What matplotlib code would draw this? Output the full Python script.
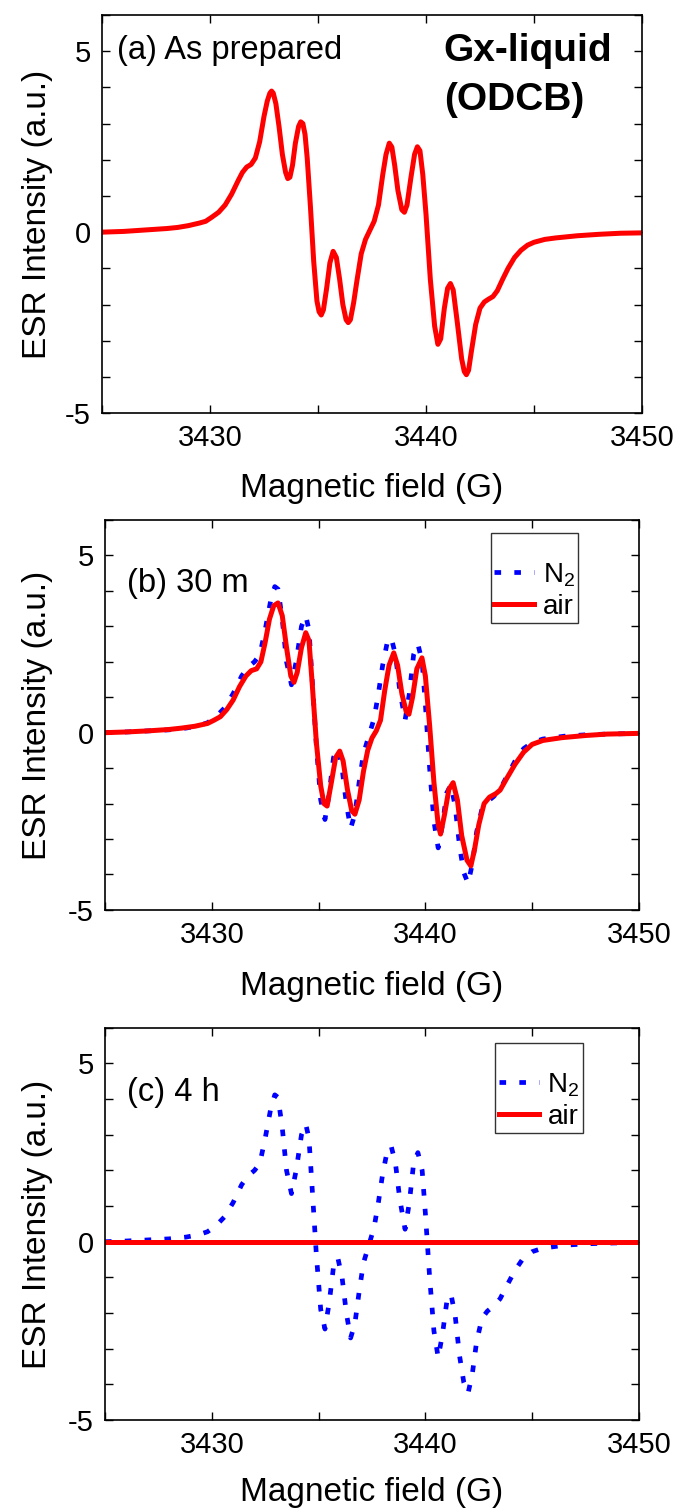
import matplotlib
matplotlib.use("Agg")
import matplotlib.pyplot as plt
from matplotlib.ticker import MultipleLocator

plt.rcParams['font.family'] = ['Liberation Sans', 'DejaVu Sans']
plt.rcParams['mathtext.fontset'] = 'custom'
plt.rcParams['mathtext.rm'] = 'Liberation Sans'
plt.rcParams['mathtext.it'] = 'Liberation Sans:italic'

# ---------------- data ----------------
# (a) as prepared
field_a = [3425, 3426, 3427, 3428, 3428.5, 3429, 3429.5, 3429.8, 3430.1, 3430.4,
           3430.7, 3431.0, 3431.3, 3431.5, 3431.7, 3431.9, 3432.1, 3432.3, 3432.5, 3432.65,
           3432.77, 3432.85, 3432.93, 3433.05, 3433.2, 3433.35, 3433.5, 3433.6, 3433.7, 3433.82,
           3433.95, 3434.1, 3434.2, 3434.3, 3434.4, 3434.5, 3434.65, 3434.8, 3434.95, 3435.05,
           3435.15, 3435.25, 3435.4, 3435.55, 3435.7, 3435.85, 3436.0, 3436.15, 3436.3, 3436.4,
           3436.5, 3436.65, 3436.8, 3437.0, 3437.2, 3437.4, 3437.6, 3437.8, 3438.0, 3438.15,
           3438.3, 3438.42, 3438.55, 3438.7, 3438.88, 3439.0, 3439.12, 3439.3, 3439.47, 3439.6,
           3439.72, 3439.85, 3440.0, 3440.2, 3440.4, 3440.55, 3440.68, 3440.85, 3441.0, 3441.13,
           3441.26, 3441.45, 3441.65, 3441.77, 3441.87, 3441.97, 3442.1, 3442.3, 3442.5, 3442.7,
           3442.9, 3443.1, 3443.3, 3443.55, 3443.8, 3444.1, 3444.4, 3444.7, 3445.0, 3445.5,
           3446.0, 3447.0, 3448.0, 3449.0, 3450.0]
esr_a = [0.0, 0.02, 0.06, 0.10, 0.13, 0.18, 0.25, 0.30, 0.42, 0.55,
         0.75, 1.05, 1.42, 1.65, 1.80, 1.87, 2.05, 2.50, 3.20, 3.62,
         3.84, 3.90, 3.84, 3.55, 2.90, 2.15, 1.65, 1.48, 1.52, 1.85,
         2.45, 2.92, 3.05, 3.00, 2.70, 2.05, 0.70, -0.80, -1.90, -2.20,
         -2.29, -2.15, -1.55, -0.85, -0.53, -0.70, -1.30, -2.00, -2.42, -2.50,
         -2.42, -1.95, -1.35, -0.60, -0.20, 0.05, 0.30, 0.75, 1.60, 2.15,
         2.46, 2.35, 1.85, 1.15, 0.62, 0.55, 0.75, 1.50, 2.15, 2.36,
         2.25, 1.60, 0.50, -1.30, -2.60, -3.10, -2.95, -2.10, -1.55, -1.42,
         -1.60, -2.50, -3.50, -3.85, -3.94, -3.82, -3.30, -2.55, -2.10, -1.93,
         -1.85, -1.78, -1.62, -1.30, -1.00, -0.70, -0.50, -0.36, -0.28, -0.20,
         -0.16, -0.10, -0.06, -0.03, -0.02]

# (b) 30 m, air
field_air_b = [3425, 3426, 3427, 3428, 3428.6, 3429.2, 3429.8, 3430.1, 3430.4, 3430.7, 3431.0,
               3431.3, 3431.6, 3431.85, 3432.1, 3432.3, 3432.5, 3432.7, 3432.9, 3433.1, 3433.3,
               3433.5, 3433.7, 3433.85, 3434.0, 3434.2, 3434.4, 3434.55, 3434.7, 3434.9, 3435.1,
               3435.25, 3435.4, 3435.6, 3435.8, 3435.99, 3436.15, 3436.35, 3436.55, 3436.7, 3436.9,
               3437.1, 3437.3, 3437.5, 3437.7, 3437.9, 3438.1, 3438.3, 3438.52, 3438.7, 3438.9,
               3439.1, 3439.23, 3439.4, 3439.6, 3439.84, 3440.0, 3440.2, 3440.4, 3440.6, 3440.71,
               3440.9, 3441.1, 3441.3, 3441.5, 3441.7, 3441.95, 3442.13, 3442.3, 3442.5, 3442.75,
               3443.0, 3443.3, 3443.5, 3443.8, 3444.2, 3444.6, 3445.0, 3445.5, 3446.4, 3447.5,
               3448.5, 3450.0]
esr_air_b = [0.0, 0.02, 0.05, 0.09, 0.13, 0.18, 0.26, 0.35, 0.45, 0.65, 0.92,
             1.30, 1.60, 1.75, 1.80, 2.00, 2.55, 3.20, 3.58, 3.66, 3.30,
             2.40, 1.60, 1.42, 1.70, 2.40, 2.82, 2.60, 1.40, -0.30, -1.50,
             -2.00, -2.07, -1.40, -0.70, -0.52, -0.80, -1.60, -2.20, -2.30, -1.90,
             -1.10, -0.50, -0.15, 0.05, 0.35, 1.20, 1.90, 2.25, 1.90, 1.10,
             0.60, 0.52, 1.00, 1.80, 2.11, 1.60, 0.20, -1.40, -2.60, -2.86,
             -2.30, -1.60, -1.41, -1.90, -2.90, -3.60, -3.76, -3.30, -2.60, -2.00,
             -1.82, -1.72, -1.62, -1.30, -0.89, -0.55, -0.33, -0.22, -0.14, -0.08,
             -0.04, -0.02]

# N2 (same sample spectrum shown in (b) and (c))
field_n2 = [3425, 3426, 3427, 3428, 3428.8, 3429.4, 3429.8, 3430.2, 3430.6, 3431.0, 3431.4,
            3431.7, 3432.0, 3432.25, 3432.5, 3432.75, 3432.95, 3433.1, 3433.3, 3433.5, 3433.73,
            3433.95, 3434.2, 3434.4, 3434.55, 3434.7, 3434.9, 3435.1, 3435.3, 3435.5, 3435.7,
            3435.9, 3436.1, 3436.3, 3436.5, 3436.7, 3436.9, 3437.1, 3437.4, 3437.6, 3437.8,
            3438.0, 3438.2, 3438.4, 3438.6, 3438.8, 3439.05, 3439.25, 3439.45, 3439.65, 3439.85,
            3440.0, 3440.2, 3440.4, 3440.6, 3440.8, 3441.0, 3441.2, 3441.4, 3441.6, 3441.8,
            3442.0, 3442.2, 3442.4, 3442.65, 3442.9, 3443.2, 3443.5, 3443.8, 3444.2, 3444.6,
            3445.0, 3445.5, 3446.5, 3447.5, 3448.5, 3450.0]
esr_n2 = [0.0, 0.02, 0.05, 0.08, 0.13, 0.20, 0.28, 0.45, 0.70, 1.10, 1.60,
          1.85, 2.00, 2.20, 2.90, 3.70, 4.12, 4.05, 3.20, 2.00, 1.35,
          2.00, 3.00, 3.30, 2.90, 1.50, -0.40, -1.90, -2.45, -1.70, -0.70,
          -0.45, -1.00, -2.00, -2.70, -2.30, -1.40, -0.60, 0.00, 0.40, 1.10,
          1.90, 2.50, 2.68, 2.20, 1.20, 0.35, 1.10, 2.20, 2.50, 2.00,
          0.80, -1.00, -2.50, -3.25, -2.60, -1.70, -1.47, -2.10, -3.20, -3.95,
          -4.25, -3.70, -2.80, -2.15, -1.95, -1.80, -1.60, -1.25, -0.80, -0.45,
          -0.28, -0.18, -0.10, -0.06, -0.04, -0.02]

# (c) 4 h, air (signal vanished)
field_air_c = [3425, 3430, 3435, 3440, 3445, 3450]
esr_air_c = [0.0, 0.0, 0.0, 0.0, 0.0, 0.0]

xticks = [3430, 3440, 3450]
yticks = [-5, 0, 5]
ytick_labels = ['-5', '0', '5']

RED = '#ff0000'
BLUE = '#0000ff'
DOTS = (0, (1.4, 2.8))

fig = plt.figure(figsize=(6.76, 15.08), dpi=100)
ax_a = fig.add_axes([0.1509, 0.7261, 0.7988, 0.2639])
ax_b = fig.add_axes([0.1553, 0.3966, 0.7899, 0.2586])
ax_c = fig.add_axes([0.1553, 0.0584, 0.7899, 0.2600])


def style(ax, ylab_x, xlab_y):
    ax.set_xlim(3425, 3450)
    ax.set_ylim(-5, 6)
    ax.set_xticks(xticks)
    ax.set_yticks(yticks)
    ax.set_yticklabels(ytick_labels)
    ax.xaxis.set_minor_locator(MultipleLocator(5))
    ax.yaxis.set_minor_locator(MultipleLocator(1))
    ax.tick_params(which='both', direction='in', top=True, right=True,
                   length=6, width=1.0, labelsize=21, pad=8)
    for s in ax.spines.values():
        s.set_linewidth(1.2)
    ax.set_xlabel('Magnetic field (G)', fontsize=24)
    ax.set_ylabel('ESR Intensity (a.u.)', fontsize=24)
    ax.xaxis.set_label_coords(0.5, xlab_y)
    ax.yaxis.set_label_coords(ylab_x, 0.5)


# (a)
ax_a.plot(field_a, esr_a, color=RED, lw=3.6)
style(ax_a, -0.09, -0.151)
ax_a.text(0.028, 0.912, '(a) As prepared', transform=ax_a.transAxes,
          fontsize=23.5, ha='left', va='center')
ax_a.text(0.633, 0.955, 'Gx-liquid\n(ODCB)', transform=ax_a.transAxes,
          fontsize=28, fontweight='bold', ha='left', va='top', linespacing=1.45)

# (b)
ax_b.plot(field_n2, esr_n2, color=BLUE, lw=3.4, linestyle=DOTS, label='N$_2$')
ax_b.plot(field_air_b, esr_air_b, color=RED, lw=3.6, label='air')
style(ax_b, -0.097, -0.156)
ax_b.text(0.041, 0.838, '(b) 30 m', transform=ax_b.transAxes,
          fontsize=23.5, ha='left', va='center')

# (c)
ax_c.plot(field_n2, esr_n2, color=BLUE, lw=3.4, linestyle=DOTS, label='N$_2$')
ax_c.plot(field_air_c, esr_air_c, color=RED, lw=3.6, label='air')
style(ax_c, -0.097, -0.145)
ax_c.text(0.041, 0.835, '(c) 4 h', transform=ax_c.transAxes,
          fontsize=23.5, ha='left', va='center')

for ax, anchor in ((ax_b, (0.886, 0.966)), (ax_c, (0.895, 0.961))):
    leg = ax.legend(loc='upper right', bbox_to_anchor=anchor, fontsize=20,
                    frameon=True, fancybox=False, edgecolor='black',
                    handlelength=1.45, handletextpad=0.3, borderpad=0.12,
                    labelspacing=0.2, borderaxespad=0.0,
                    title=' ', title_fontsize=15)
    leg.get_frame().set_linewidth(1.0)

fig.savefig('out.png', dpi=100)
